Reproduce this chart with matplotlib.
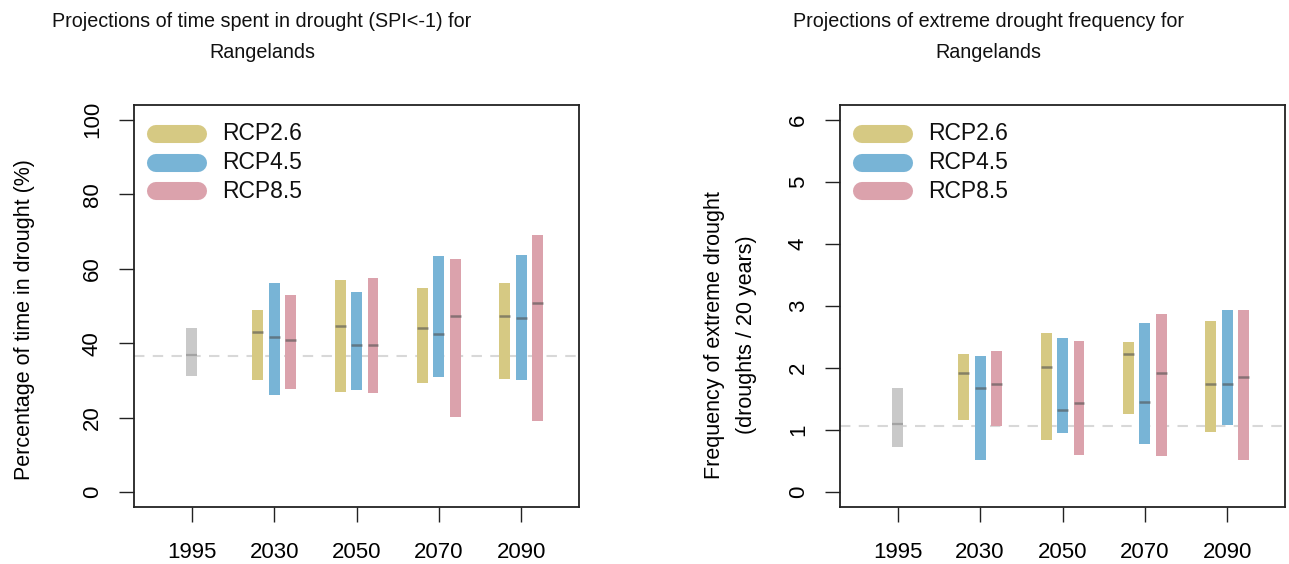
import matplotlib
matplotlib.use("Agg")
import matplotlib.pyplot as plt
import numpy as np

plt.rcParams['font.family'] = ['Liberation Sans', 'DejaVu Sans']

periods = ["1995", "2030", "2050", "2070", "2090"]
scenarios = ["RCP2.6", "RCP4.5", "RCP8.5"]
scen_colors = ["#d6c983", "#78b4d6", "#dba2ac"]
base_color = "#c9c9c9"

# Time in drought (%): baseline and per-scenario low / median / high for 2030..2090
drought_base = {"low": 31.2, "med": 36.8, "high": 44.1}
drought_base_line = 36.5
drought_low = {
    "RCP2.6": [30.2, 27.0, 29.4, 30.3],
    "RCP4.5": [26.1, 27.3, 30.9, 30.2],
    "RCP8.5": [27.8, 26.6, 20.3, 19.1],
}
drought_med = {
    "RCP2.6": [43.1, 44.5, 44.1, 47.2],
    "RCP4.5": [41.6, 39.6, 42.6, 46.9],
    "RCP8.5": [40.9, 39.5, 47.4, 50.7],
}
drought_high = {
    "RCP2.6": [48.9, 57.0, 54.9, 56.3],
    "RCP4.5": [56.2, 53.8, 63.5, 63.8],
    "RCP8.5": [52.9, 57.4, 62.5, 69.0],
}

# Extreme drought frequency (droughts / 20 years)
freq_base = {"low": 0.72, "med": 1.09, "high": 1.67}
freq_base_line = 1.07
freq_low = {
    "RCP2.6": [1.17, 0.84, 1.26, 0.97],
    "RCP4.5": [0.52, 0.96, 0.78, 1.08],
    "RCP8.5": [1.06, 0.59, 0.58, 0.52],
}
freq_med = {
    "RCP2.6": [1.92, 2.01, 2.22, 1.74],
    "RCP4.5": [1.67, 1.33, 1.45, 1.74],
    "RCP8.5": [1.75, 1.44, 1.92, 1.86],
}
freq_high = {
    "RCP2.6": [2.22, 2.57, 2.42, 2.75],
    "RCP4.5": [2.20, 2.48, 2.73, 2.94],
    "RCP8.5": [2.27, 2.44, 2.87, 2.93],
}

fig = plt.figure(figsize=(12.89, 5.64), dpi=100)
ax1 = fig.add_axes([0.1040, 0.1011, 0.3452, 0.7128])
ax2 = fig.add_axes([0.6517, 0.1011, 0.3452, 0.7128])

bar_w = 0.133
offsets = [-0.2, 0.0, 0.2]


def draw_panel(ax, base, base_line, low, med, high, ylim, yticks):
    xs = np.arange(1, len(periods) + 1)
    ax.axhline(base_line, color="#d8d8d8", lw=1.5, dashes=(5, 4), zorder=1)
    # baseline bar
    ax.bar(xs[0], base["high"] - base["low"], bottom=base["low"], width=bar_w,
           color=base_color, zorder=2, linewidth=0)
    ax.plot([xs[0] - bar_w / 2, xs[0] + bar_w / 2], [base["med"]] * 2,
            color="#9a9a9a", lw=1.6, alpha=0.8, zorder=3, solid_capstyle="butt")
    for s, col, off in zip(scenarios, scen_colors, offsets):
        lo = np.array(low[s])
        hi = np.array(high[s])
        md = np.array(med[s])
        xp = xs[1:] + off
        ax.bar(xp, hi - lo, bottom=lo, width=bar_w, color=col, zorder=2, linewidth=0)
        for x, m in zip(xp, md):
            ax.plot([x - bar_w / 2, x + bar_w / 2], [m, m], color="#505050",
                    lw=1.8, alpha=0.6, zorder=3, solid_capstyle="butt")
    ax.set_xlim(0.3, 5.7)
    ax.set_ylim(*ylim)
    ax.set_xticks(xs)
    ax.set_xticklabels(periods)
    ax.set_yticks(yticks)
    ax.set_yticklabels([str(t) for t in yticks], rotation=90, va="center")
    ax.tick_params(axis="both", length=10.5, width=1.0, labelsize=16, color="#222222")
    ax.tick_params(axis="x", pad=15)
    ax.tick_params(axis="y", pad=12)
    for sp in ax.spines.values():
        sp.set_linewidth(1.3)
        sp.set_color("#222222")
    # legend
    ys = [0.928, 0.856, 0.785]
    for s, col, y in zip(scenarios, scen_colors, ys):
        ax.plot([0.049, 0.144], [y, y], transform=ax.transAxes, color=col,
                lw=13, solid_capstyle="round", zorder=4)
        ax.text(0.197, y, s, transform=ax.transAxes, fontsize=16.5,
                va="center", ha="left", color="#111111")


draw_panel(ax1, drought_base, drought_base_line, drought_low, drought_med,
           drought_high, (-4, 104), [0, 20, 40, 60, 80, 100])
draw_panel(ax2, freq_base, freq_base_line, freq_low, freq_med,
           freq_high, (-0.24, 6.24), [0, 1, 2, 3, 4, 5, 6])

ax1.set_ylabel("Percentage of time in drought (%)", fontsize=15.5)
ax1.yaxis.set_label_coords(-0.222, 0.465)
ax2.set_ylabel("Frequency of extreme drought\n(droughts / 20 years)", fontsize=15.5,
               linespacing=1.7)
ax2.yaxis.set_label_coords(-0.186, 0.428)

fig.text(0.2033, 0.934, "Projections of time spent in drought (SPI<-1) for\nRangelands",
         ha="center", va="center", fontsize=14.2, linespacing=1.8, color="#111111")
fig.text(0.7665, 0.934, "Projections of extreme drought frequency for\nRangelands",
         ha="center", va="center", fontsize=14.2, linespacing=1.8, color="#111111")

fig.savefig("out.png", dpi=100)
